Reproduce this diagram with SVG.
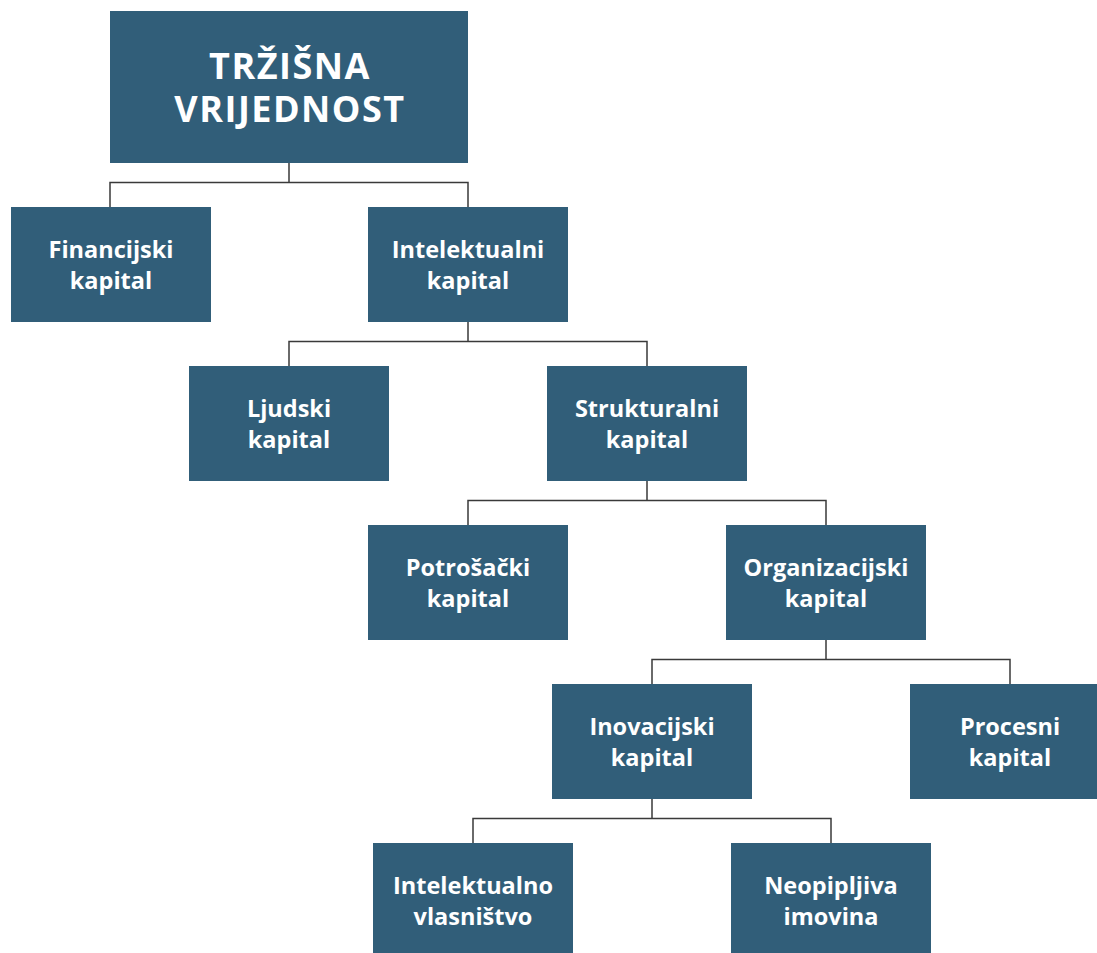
<svg xmlns="http://www.w3.org/2000/svg" width="1097" height="953" viewBox="0 0 1097 953">
  <style>
    .box { fill: #315e79; }
    .lbl { font-family: "Open Sans", Lato, sans-serif; font-weight: 700; font-size: 23.5px; fill: #ffffff; text-anchor: middle; }
    .title { font-family: "Open Sans", Lato, sans-serif; font-weight: 700; font-size: 36px; letter-spacing: 1.5px; fill: #ffffff; text-anchor: middle; }
    .conn { fill: none; stroke: #3a3a3a; stroke-width: 1.5; }
  </style>
  <rect width="1097" height="953" fill="#ffffff"/>

  <g id="connectors">
    <path class="conn" d="M289 163 V182.5 M110 207 V182.5 H468 V207"/>
    <path class="conn" d="M468 322 V341.5 M289 366 V341.5 H647 V366"/>
    <path class="conn" d="M647 481 V500.5 M468 525 V500.5 H826 V525"/>
    <path class="conn" d="M826 640 V659.5 M652 684 V659.5 H1010 V684"/>
    <path class="conn" d="M652 799 V818.5 M473 843 V818.5 H831 V843"/>
  </g>

  <g id="trzisna-vrijednost">
    <rect class="box" x="110" y="11" width="358" height="152"/>
    <text class="title" x="290" y="79">TRŽIŠNA</text>
    <text class="title" x="290" y="122">VRIJEDNOST</text>
  </g>

  <g id="financijski-kapital">
    <rect class="box" x="11" y="207" width="200" height="115"/>
    <text class="lbl" x="111" y="258">Financijski</text>
    <text class="lbl" x="111" y="289">kapital</text>
  </g>

  <g id="intelektualni-kapital">
    <rect class="box" x="368" y="207" width="200" height="115"/>
    <text class="lbl" x="468" y="258">Intelektualni</text>
    <text class="lbl" x="468" y="289">kapital</text>
  </g>

  <g id="ljudski-kapital">
    <rect class="box" x="189" y="366" width="200" height="115"/>
    <text class="lbl" x="289" y="417">Ljudski</text>
    <text class="lbl" x="289" y="448">kapital</text>
  </g>

  <g id="strukturalni-kapital">
    <rect class="box" x="547" y="366" width="200" height="115"/>
    <text class="lbl" x="647" y="417">Strukturalni</text>
    <text class="lbl" x="647" y="448">kapital</text>
  </g>

  <g id="potrosacki-kapital">
    <rect class="box" x="368" y="525" width="200" height="115"/>
    <text class="lbl" x="468" y="576">Potrošački</text>
    <text class="lbl" x="468" y="607">kapital</text>
  </g>

  <g id="organizacijski-kapital">
    <rect class="box" x="726" y="525" width="200" height="115"/>
    <text class="lbl" x="826" y="576">Organizacijski</text>
    <text class="lbl" x="826" y="607">kapital</text>
  </g>

  <g id="inovacijski-kapital">
    <rect class="box" x="552" y="684" width="200" height="115"/>
    <text class="lbl" x="652" y="735">Inovacijski</text>
    <text class="lbl" x="652" y="766">kapital</text>
  </g>

  <g id="procesni-kapital">
    <rect class="box" x="910" y="684" width="200" height="115"/>
    <text class="lbl" x="1010" y="735">Procesni</text>
    <text class="lbl" x="1010" y="766">kapital</text>
  </g>

  <g id="intelektualno-vlasnistvo">
    <rect class="box" x="373" y="843" width="200" height="110"/>
    <text class="lbl" x="473" y="894">Intelektualno</text>
    <text class="lbl" x="473" y="925">vlasništvo</text>
  </g>

  <g id="neopipljiva-imovina">
    <rect class="box" x="731" y="843" width="200" height="110"/>
    <text class="lbl" x="831" y="894">Neopipljiva</text>
    <text class="lbl" x="831" y="925">imovina</text>
  </g>
</svg>
